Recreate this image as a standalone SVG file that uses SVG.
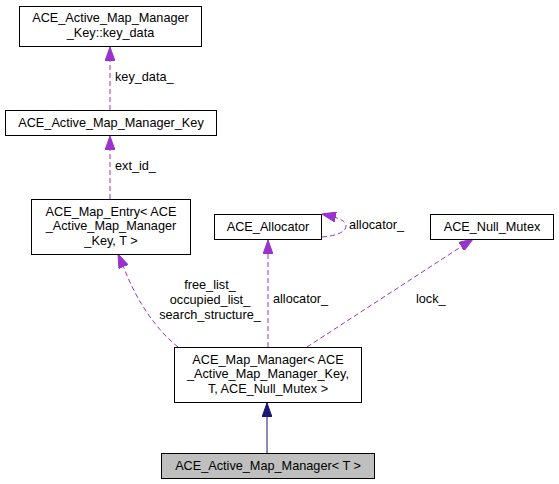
<svg xmlns="http://www.w3.org/2000/svg" width="559" height="484" viewBox="0 0 559 484">
<style>
.box{fill:#ffffff;stroke:#000000;stroke-width:1}
.cur{fill:#bfbfbf;stroke:#000000;stroke-width:1}
text{font-family:"Liberation Sans",Arial,Helvetica,sans-serif;font-size:12.7px;fill:#000000}
.use{fill:none;stroke:#9a32cd;stroke-width:1;stroke-dasharray:5,3}
.inh{fill:none;stroke:#191970;stroke-width:1}
</style>
<defs>
<marker id="ph" viewBox="0 0 14 10" refX="14" refY="5" markerWidth="14" markerHeight="10" markerUnits="userSpaceOnUse" orient="auto">
<path d="M0,0 L14,5 L0,10 z" fill="#9a32cd" stroke="#9a32cd"/>
</marker>
<marker id="bh" viewBox="0 0 14 10" refX="14" refY="5" markerWidth="14" markerHeight="10" markerUnits="userSpaceOnUse" orient="auto">
<path d="M0,0 L14,5 L0,10 z" fill="#191970" stroke="#191970"/>
</marker>
</defs>
<rect width="559" height="484" fill="#ffffff"/>
<g id="connectors">
<path class="use" d="M110,110 L110,47" marker-end="url(#ph)"/>
<text x="115" y="81">key_data_</text>
<path class="use" d="M110,199 L110,136" marker-end="url(#ph)"/>
<text x="115" y="170">ext_id_</text>
<path class="use" d="M178,347 C160,333 138,305 124,268 L118,254" marker-end="url(#ph)"/>
<text x="210" y="289" text-anchor="middle">free_list_</text>
<text x="210" y="304" text-anchor="middle">occupied_list_</text>
<text x="210" y="319" text-anchor="middle">search_structure_</text>
<path class="use" d="M268,347 L268,240" marker-end="url(#ph)"/>
<text x="273" y="303">allocator_</text>
<path class="use" d="M307,347 L473,239" marker-end="url(#ph)"/>
<text x="416" y="303">lock_</text>
<path class="use" d="M322,237 C336,236 346,232 346,226 C346,221 340,218 322,214" marker-end="url(#ph)"/>
<text x="349" y="229">allocator_</text>
<path class="inh" d="M267,453 L267,403" marker-end="url(#bh)"/>
</g>
<g id="node_key_data">
<rect class="box" x="19.5" y="6.5" width="182" height="40"/>
<text x="110.5" y="22" text-anchor="middle">ACE_Active_Map_Manager</text>
<text x="110.5" y="36.5" text-anchor="middle">_Key::key_data</text>
</g>
<g id="node_key">
<rect class="box" x="5.5" y="110.5" width="211" height="25"/>
<text x="111" y="127" text-anchor="middle">ACE_Active_Map_Manager_Key</text>
</g>
<g id="node_map_entry">
<rect class="box" x="31.5" y="199.5" width="159" height="55"/>
<text x="111" y="215.5" text-anchor="middle">ACE_Map_Entry&lt; ACE</text>
<text x="111" y="230" text-anchor="middle">_Active_Map_Manager</text>
<text x="111" y="245" text-anchor="middle">_Key, T &gt;</text>
</g>
<g id="node_allocator">
<rect class="box" x="214.5" y="214.5" width="107" height="25"/>
<text x="268" y="231" text-anchor="middle">ACE_Allocator</text>
</g>
<g id="node_null_mutex">
<rect class="box" x="430.5" y="214.5" width="123" height="25"/>
<text x="492" y="231" text-anchor="middle">ACE_Null_Mutex</text>
</g>
<g id="node_map_manager">
<rect class="box" x="174.5" y="347.5" width="187" height="55"/>
<text x="268" y="363.5" text-anchor="middle">ACE_Map_Manager&lt; ACE</text>
<text x="268" y="378" text-anchor="middle">_Active_Map_Manager_Key,</text>
<text x="268" y="393" text-anchor="middle">T, ACE_Null_Mutex &gt;</text>
</g>
<g id="node_active_map_manager">
<rect class="cur" x="161.5" y="453.5" width="213" height="25"/>
<text x="268" y="470" text-anchor="middle">ACE_Active_Map_Manager&lt; T &gt;</text>
</g>
</svg>
